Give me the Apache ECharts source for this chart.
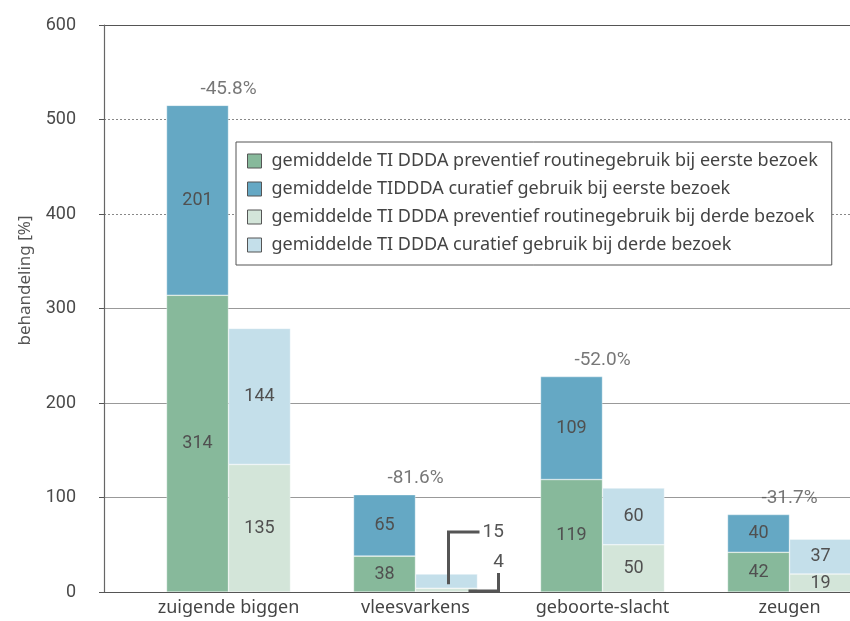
<!DOCTYPE html>
<html>
<head>
<meta charset="utf-8">
<script src="https://cdn.jsdelivr.net/npm/echarts@6/dist/echarts.min.js"></script>
<style>html,body{margin:0;padding:0;background:#fff}#c{width:850px;height:621px}</style>
</head>
<body>
<div id="c"></div>
<script>
const categories = ['zuigende biggen', 'vleesvarkens', 'geboorte-slacht', 'zeugen'];
const prevFirst = [314, 38, 119, 42];
const curFirst = [201, 65, 109, 40];
const prevThird = [135, 4, 50, 19];
const curThird = [144, 15, 60, 37];
const changeLabels = ['-45.8%', '-81.6%', '-52.0%', '-31.7%'];
const seriesNames = [
  'gemiddelde TI DDDA preventief routinegebruik bij eerste bezoek',
  'gemiddelde TIDDDA curatief gebruik bij eerste bezoek',
  'gemiddelde TI DDDA preventief routinegebruik bij derde bezoek',
  'gemiddelde TI DDDA curatief gebruik bij derde bezoek'
];
const yAxisTitle = 'behandeling [%]';
const calloutIndex = 1; // vleesvarkens, third visit labels drawn as callouts
const dottedGrid = [400, 500];
const solidGrid = [100, 200, 300];

const colors = ['#87b99b', '#65a8c4', '#d3e5d9', '#c4dfea'];
const numFont = 'Roboto, sans-serif';
const txtFont = '"Noto Sans", sans-serif';

const totalsFirst = prevFirst.map((v, i) => v + curFirst[i]);

function labelled(arr, hideIdx) {
  return arr.map((v, i) => (i === hideIdx ? { value: v, label: { show: false } } : v));
}

const barLabel = { show: true, position: 'inside', color: '#505050', fontSize: 18, fontFamily: numFont };
const barCommon = {
  type: 'bar', xAxisIndex: 1, yAxisIndex: 1, barWidth: 62, barGap: '0%', z: 3,
  label: barLabel
};
const styleFor = c => ({ color: c, borderColor: 'rgba(255,255,255,0.6)', borderWidth: 0.6 });

const chart = echarts.init(document.getElementById('c'), null, { renderer: 'canvas' });

const gridMarks = [
  ...dottedGrid.map(v => ({ yAxis: v, lineStyle: { type: [2, 2], color: '#888', width: 1 } })),
  ...solidGrid.map(v => ({ yAxis: v, lineStyle: { type: 'solid', color: '#999', width: 1 } })),
  { yAxis: 600, lineStyle: { type: 'solid', color: '#555', width: 1.2 } }
];

chart.setOption({
  animation: false,
  backgroundColor: '#fff',
  grid: [
    { left: 104, top: 25, bottom: 29, right: 0, outerBoundsMode: 'none', containLabel: false },
    { left: 135, top: 25, bottom: 29, width: 748, outerBoundsMode: 'none', containLabel: false }
  ],
  legend: {
    data: seriesNames,
    orient: 'vertical',
    left: 236, top: 142,
    padding: [10, 14, 11, 11],
    itemWidth: 14, itemHeight: 14, itemGap: 10,
    icon: 'rect',
    borderColor: '#555', borderWidth: 1,
    backgroundColor: '#fff',
    z: 6,
    itemStyle: { borderColor: '#555', borderWidth: 1 },
    textStyle: { fontSize: 18, color: '#444', fontFamily: txtFont, padding: [0, 0, 0, 5] }
  },
  xAxis: [
    { type: 'value', gridIndex: 0, min: 0, max: 1, z: 5,
      axisLine: { show: true, onZero: false, lineStyle: { color: '#555', width: 1.2 } },
      axisTick: { show: false }, axisLabel: { show: false }, splitLine: { show: false } },
    { type: 'category', gridIndex: 1, data: categories,
      axisLine: { show: false }, axisTick: { show: false },
      axisLabel: { interval: 0, color: '#444', fontSize: 18, fontFamily: txtFont, margin: 7 } }
  ],
  yAxis: [
    { type: 'value', gridIndex: 0, min: 0, max: 600, interval: 100, z: 5,
      axisLine: { show: true, lineStyle: { color: '#666', width: 1.2 } },
      axisTick: { show: true, length: 5, lineStyle: { color: '#555' } },
      axisLabel: { color: '#4a4a4a', fontSize: 18, fontFamily: numFont, margin: 28 },
      splitLine: { show: false } },
    { type: 'value', gridIndex: 1, min: 0, max: 600, interval: 100, show: false, splitLine: { show: false } }
  ],
  series: [
    { type: 'line', xAxisIndex: 0, yAxisIndex: 0, data: [], z: 1, silent: true,
      markLine: { z: 1, symbol: 'none', silent: true, label: { show: false }, animation: false, data: gridMarks } },
    Object.assign({}, barCommon, { name: seriesNames[0], stack: 'first', data: prevFirst, itemStyle: styleFor(colors[0]) }),
    Object.assign({}, barCommon, { name: seriesNames[1], stack: 'first', data: curFirst, itemStyle: styleFor(colors[1]) }),
    Object.assign({}, barCommon, { name: seriesNames[2], stack: 'third', data: labelled(prevThird, calloutIndex), itemStyle: styleFor(colors[2]) }),
    Object.assign({}, barCommon, { name: seriesNames[3], stack: 'third', data: labelled(curThird, calloutIndex), itemStyle: styleFor(colors[3]) }),
    { type: 'scatter', xAxisIndex: 1, yAxisIndex: 1, symbolSize: 0, z: 4, silent: true,
      data: totalsFirst,
      label: { show: true, position: 'top', distance: 7, color: '#555', fontSize: 19, fontFamily: numFont,
        formatter: p => changeLabels[p.dataIndex] } }
  ]
});

// Callout brackets for the small third-visit values of vleesvarkens
const toPx = (c, v) => chart.convertToPixel({ xAxisIndex: 1, yAxisIndex: 1 }, [c, v]);
const toPx0 = v => chart.convertToPixel({ xAxisIndex: 0, yAxisIndex: 0 }, [0, v]);
const catX = toPx(calloutIndex, 0)[0];
const barW = 62;
const cx = catX + barW / 2; // centre of the third-visit bar
const yMidCur = toPx(calloutIndex, prevThird[calloutIndex] + curThird[calloutIndex] / 2)[1];
const yTop = toPx(calloutIndex, prevThird[calloutIndex] + curThird[calloutIndex])[1];
const yMidPrev = toPx(calloutIndex, prevThird[calloutIndex] / 2)[1];
const lineStyle = { stroke: '#555', lineWidth: 3, fill: null };
const e1y = yTop - 42;
const e1x = cx + 33;
const e2x = cx + 52;
const axisMid = toPx0(300);
chart.setOption({
  graphic: [
    { type: 'polyline', z: 10, shape: { points: [[cx + 2, yMidCur + 3], [cx + 2, e1y], [e1x, e1y]] }, style: lineStyle },
    { type: 'text', z: 10, x: e1x + 3, y: e1y, style: { text: String(curThird[calloutIndex]), fill: '#555', font: '19px ' + numFont, align: 'left', verticalAlign: 'middle' } },
    { type: 'polyline', z: 10, shape: { points: [[cx + 22, yMidPrev + 1], [e2x, yMidPrev + 1], [e2x, yTop - 1]] }, style: lineStyle },
    { type: 'text', z: 10, x: e2x, y: yTop - 12, style: { text: String(prevThird[calloutIndex]), fill: '#555', font: '19px ' + numFont, align: 'center', verticalAlign: 'middle' } },
    { type: 'text', z: 10, x: 25, y: axisMid[1] - 28, rotation: Math.PI / 2,
      style: { text: yAxisTitle, fill: '#555', font: '17px ' + txtFont, align: 'center', verticalAlign: 'middle' } }
  ]
});
</script>
</body>
</html>
